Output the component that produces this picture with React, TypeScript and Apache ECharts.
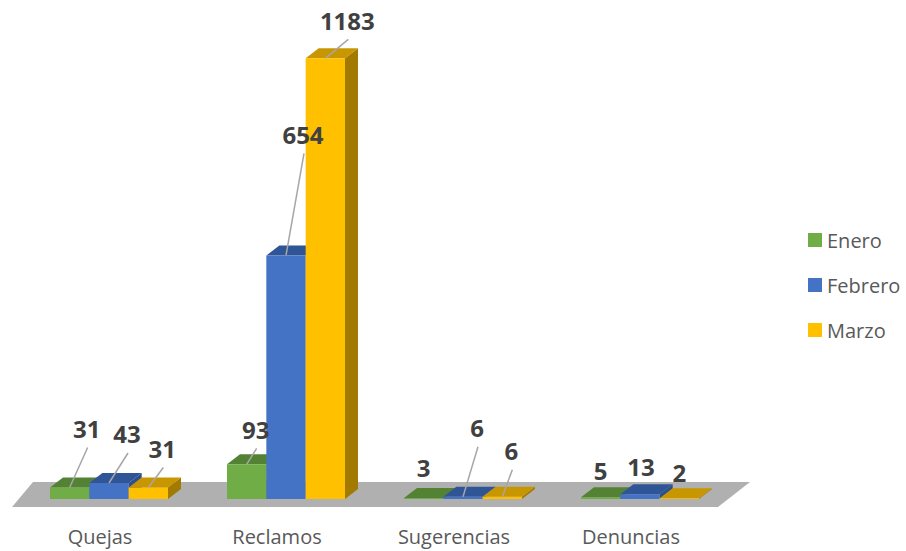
import React, { useEffect, useRef } from "react";
import * as echarts from "echarts";

const CATEGORIES = ["Quejas", "Reclamos", "Sugerencias", "Denuncias"];
const SERIES_NAMES = ["Enero", "Febrero", "Marzo"];
const ENERO = [31, 93, 3, 5];
const FEBRERO = [43, 654, 6, 13];
const MARZO = [31, 1183, 6, 2];
const VALUES = [ENERO, FEBRERO, MARZO];

// layout (not data): label offsets from bar front-top centre, and leader-line flags
const LABEL_OFFSETS = [
  [[17, -59], [9, -35], [0, -30], [0, -27]],
  [[18, -49], [17, -121], [14, -69], [1, -28]],
  [[14, -39], [22, -38], [9, -46], [0, -26]],
];
const LEADERS = [
  [true, true, false, false],
  [true, true, true, false],
  [true, true, true, false],
];

const FRONT = ["#70AD47", "#4472C4", "#FFC000"];
const TOP = ["#548235", "#2F5597", "#C89600"];
const SIDE = ["#4E7D2F", "#2C4F8E", "#A27A00"];
const DX = 13;
const DY = 10;
const GAP = 1 / 3;
const FONT = "'Open Sans', 'Noto Sans', sans-serif";

function barGeom(api: any, idx: number) {
  const cat = api.value(0);
  const val = api.value(1);
  const top = api.coord([cat, val]);
  const base = api.coord([cat, 0]);
  const band = api.size([1, 0])[0];
  const w = (band * (1 - GAP)) / 3;
  const x0 = top[0] - 1.5 * w + idx * w;
  return { x0, w, top: top[1], base: base[1], cat };
}

export default function App() {
  const ref = useRef<HTMLDivElement>(null);
  useEffect(() => {
    document.body.style.margin = "0";
    const chart = echarts.init(ref.current!, null, { renderer: "svg" });

    const barSeries = SERIES_NAMES.map((name, idx) => ({
      type: "custom",
      name,
      z: 2,
      itemStyle: { color: FRONT[idx] },
      data: VALUES[idx].map((v, i) => [i, v]),
      encode: { x: 0, y: 1 },
      renderItem: (params: any, api: any) => {
        const g = barGeom(api, idx);
        const { x0, w, top, base } = g;
        return {
          type: "group",
          children: [
            {
              type: "polygon",
              shape: {
                points: [
                  [x0 + w, top],
                  [x0 + w + DX, top - DY],
                  [x0 + w + DX, base - DY],
                  [x0 + w, base],
                ],
              },
              style: { fill: SIDE[idx] },
            },
            {
              type: "polygon",
              shape: {
                points: [
                  [x0, top],
                  [x0 + w, top],
                  [x0 + w + DX, top - DY],
                  [x0 + DX, top - DY],
                ],
              },
              style: { fill: TOP[idx] },
            },
            {
              type: "rect",
              shape: { x: x0, y: top, width: w, height: base - top },
              style: { fill: FRONT[idx] },
            },
          ],
        };
      },
    }));

    const labelSeries = SERIES_NAMES.map((name, idx) => ({
      type: "custom",
      name,
      z: 10,
      itemStyle: { color: FRONT[idx] },
      data: VALUES[idx].map((v, i) => [i, v]),
      encode: { x: 0, y: 1 },
      renderItem: (params: any, api: any) => {
        const g = barGeom(api, idx);
        const cx = g.x0 + g.w / 2;
        const off = LABEL_OFFSETS[idx][g.cat];
        const lx = cx + off[0];
        const ly = g.top + off[1];
        const children: any[] = [];
        if (LEADERS[idx][g.cat]) {
          children.push({
            type: "line",
            shape: { x1: lx + 1, y1: ly + 19, x2: cx, y2: g.top },
            style: { stroke: "#A6A6A6", lineWidth: 1.5 },
          });
        }
        children.push({
          type: "text",
          style: {
            text: String(api.value(1)),
            x: lx,
            y: ly,
            align: "center",
            verticalAlign: "middle",
            fontSize: 24,
            fontWeight: "bold",
            fontFamily: FONT,
            fill: "#404040",
          },
        });
        return { type: "group", children };
      },
    }));

    const floorSeries = {
      type: "custom",
      name: "floor",
      z: 1,
      silent: true,
      data: [[0, 0]],
      encode: { x: 0, y: 1 },
      renderItem: (params: any, api: any) => {
        const cs = params.coordSys;
        const base = api.coord([0, 0])[1];
        const left = cs.x;
        const right = cs.x + cs.width;
        return {
          type: "polygon",
          shape: {
            points: [
              [left - 8.5, base + 8],
              [right - 10.5, base + 8],
              [right + 21.5, base - 17],
              [left + 12.5, base - 17],
            ],
          },
          style: { fill: "#B0B0B0" },
        };
      },
    };

    chart.setOption({
      animation: false,
      backgroundColor: "#ffffff",
      grid: { left: 20.5, right: 177.5, top: 52, bottom: 52 },
      xAxis: {
        type: "category",
        data: CATEGORIES,
        boundaryGap: true,
        axisLine: { show: false },
        axisTick: { show: false },
        splitLine: { show: false },
        axisLabel: {
          margin: 27,
          fontSize: 20,
          color: "#595959",
          fontFamily: FONT,
          padding: [0, 18, 0, 0],
        },
      },
      yAxis: {
        type: "value",
        min: 0,
        max: 1200,
        show: false,
      },
      legend: {
        orient: "vertical",
        left: 803,
        top: 225,
        itemWidth: 14,
        itemHeight: 14,
        itemGap: 25,
        data: SERIES_NAMES.map((n) => ({ name: n, icon: "rect" })),
        textStyle: { fontSize: 20, color: "#595959", fontFamily: FONT },
        selectedMode: false,
      },
      series: [floorSeries, ...barSeries, ...labelSeries],
    });
    return () => chart.dispose();
  }, []);
  return <div ref={ref} style={{ width: 906, height: 551 }} />;
}
